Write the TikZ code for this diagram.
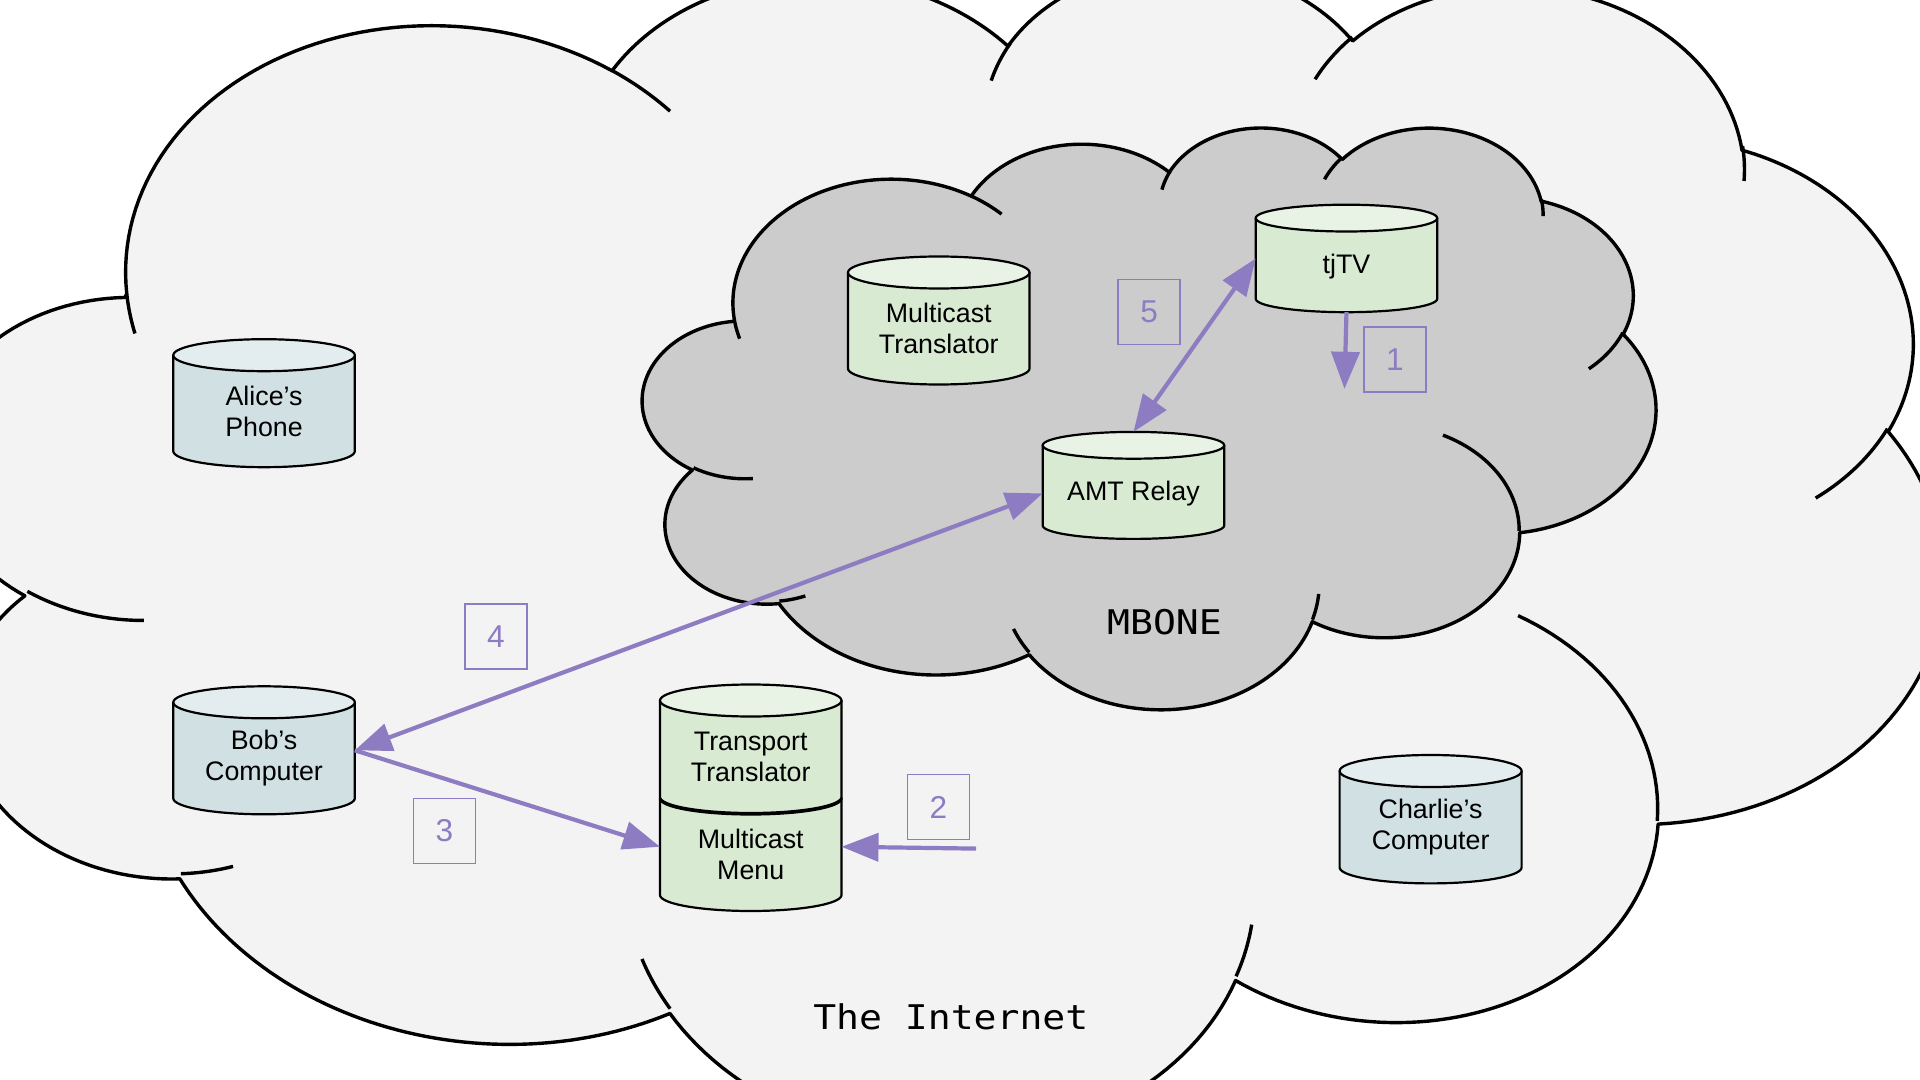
\documentclass[tikz,border=0pt]{standalone}
\usepackage{fontspec}
\setmainfont{Liberation Sans}
\newfontfamily\monofont{DejaVu Sans Mono}
\usetikzlibrary{arrows.meta,calc}
\definecolor{inetfill}{HTML}{F3F3F3}
\definecolor{mbonefill}{HTML}{CCCCCC}
\definecolor{arrowpurple}{HTML}{8E7CC3}
\definecolor{bluebody}{HTML}{D0E0E3}
\definecolor{bluetop}{HTML}{E3ECEE}
\definecolor{greenbody}{HTML}{D9EAD3}
\definecolor{greentop}{HTML}{E8F2E5}

\makeatletter
\newcommand\clstart[2]{\xdef\clx{#1}\xdef\cly{#2}\xdef\clspec{(#1,#2)}}
\newcommand\clcalc[4]{%
  \pgfmathsetmacro\cl@s{#3}%
  \pgfmathsetmacro\cl@e{#3+#4}%
  \pgfmathsetmacro\cl@ts{\cl@s+Mod(atan2(#1*sin(\cl@s),#2*cos(\cl@s))-(\cl@s)+180,360)-180}%
  \pgfmathsetmacro\cl@te{\cl@e+Mod(atan2(#1*sin(\cl@e),#2*cos(\cl@e))-(\cl@e)+180,360)-180}%
  \pgfmathsetmacro\cl@cx{\clx-#1*cos(\cl@ts)}%
  \pgfmathsetmacro\cl@cy{\cly-#2*sin(\cl@ts)}%
  \pgfmathsetmacro\cl@nx{\cl@cx+#1*cos(\cl@te)}%
  \pgfmathsetmacro\cl@ny{\cl@cy+#2*sin(\cl@te)}%
  \xdef\clx{\cl@nx}\xdef\cly{\cl@ny}}
\newcommand\clarc[4]{\clcalc{#1}{#2}{#3}{#4}%
  \xdef\clspec{\unexpanded\expandafter{\clspec} -- plot[domain=\cl@ts:\cl@te,samples=60,variable=\noexpand\clt] ({\cl@cx+#1*cos(\noexpand\clt)},{\cl@cy+#2*sin(\noexpand\clt)})}}
\newcommand\clinner[6]{\xdef\clx{#1}\xdef\cly{#2}\clcalc{#3}{#4}{#5}{#6}%
  \xdef\clinspec{\unexpanded\expandafter{\clinspec} (#1,#2) plot[domain=\cl@ts:\cl@te,samples=30,variable=\noexpand\clt] ({\cl@cx+#3*cos(\noexpand\clt)},{\cl@cy+#4*sin(\noexpand\clt)})}}
\newcommand\clbuild{%
  \clstart{39.00}{143.70}%
  \clarc{67.53}{91.90}{-190.48748}{123.78053}%
  \clarc{53.33}{72.67}{-144.10238}{89.94523}%
  \clarc{43.65}{59.45}{-145.80792}{99.72302}%
  \clarc{48.57}{65.95}{-130.98607}{117.24173}%
  \clarc{53.33}{72.73}{-78.70888}{109.02692}%
  \clarc{67.75}{92.20}{-46.26725}{130.26900}%
  \clarc{57.85}{78.67}{0.62502}{114.03333}%
  \clarc{67.52}{92.15}{22.45160}{115.17255}%
  \clarc{77.20}{105.43}{66.24263}{75.71102}%
  \clarc{43.60}{59.18}{-274.94208}{146.73557}%
  \clarc{43.45}{59.45}{-246.82850}{152.51885}%
  \gdef\clinspec{}%
  \clinner{46.93}{261.77}{43.45}{59.45}{86.74200}{26.42950}%
  \clinner{69.28}{348.99}{43.60}{59.18}{73.61047}{11.44747}%
  \clinner{164.78}{390.90}{67.52}{92.15}{137.62415}{14.08110}%
  \clinner{288.27}{347.51}{67.52}{92.15}{6.45327}{15.99835}%
  \clinner{341.29}{229.54}{57.85}{78.67}{-70.29235}{70.91737}%
  \clinner{417.98}{153.54}{53.33}{72.73}{30.31803}{27.75150}%
  \clinner{383.24}{54.26}{48.57}{65.95}{-13.74433}{14.85890}%
  \clinner{290.78}{39.52}{48.57}{65.95}{-149.18145}{18.19537}%
  \clinner{221.41}{47.20}{43.65}{59.45}{-163.49427}{17.68635}%
  \clinner{140.00}{51.92}{67.53}{91.90}{-66.70695}{12.31935}%
  \clinner{41.27}{157.89}{67.53}{91.90}{157.65435}{11.85817}%
}
\newcommand\drawcloud[1]{%
  \edef\cltmp{\noexpand\path[cloudline,fill=#1] \unexpanded\expandafter{\clspec} -- cycle;}\cltmp
  \edef\cltmp{\noexpand\path[cloudline] \unexpanded\expandafter{\clinspec};}\cltmp}
\makeatother

% #1 name, #2 left, #3 top, #4 width, #5 height, #6 ry, #7 body, #8 top, #9 text
\newcommand\can[9]{%
  \node[canbox, minimum width={#4*0.5pt}, minimum height={#5*0.5pt}] (#1) at ({#2+#4/2},{#3+#5/2}) {};
  \path[canline, fill=#7] (#2,{#3+#6}) -- (#2,{#3+#5-#6})
    -- plot[domain=180:0,samples=40,variable=\clt] ({#2+#4/2+#4/2*cos(\clt)},{#3+#5-#6+#6*sin(\clt)})
    -- ({#2+#4},{#3+#6}) -- cycle;
  \path[canline, fill=#8] ({#2+#4/2},{#3+#6}) ellipse[x radius={#4/2}, y radius={#6}];
  \node[cantext] (#1-text) at ({#2+#4/2},{#3+#5/2+8}) {#9};
}

\tikzset{
  cloudline/.style={draw=black, line width=1.7pt, line join=round},
  canbox/.style={draw=none, inner sep=0pt, outer sep=0pt, rectangle},
  canline/.style={draw=black, line width=1.1pt, line join=round},
  cantext/.style={align=center, inner sep=0pt, font=\fontsize{13.4}{15.5}\selectfont},
  arrowline/.style={draw=arrowpurple, line width=2.1pt},
  head/.style={},
  numbox/.style={draw=arrowpurple, line width=0.8pt, text=arrowpurple, minimum width=31pt, minimum height=32.5pt, inner sep=0pt, font=\fontsize{15.8}{18}\selectfont},
  bigmono/.style={font=\monofont\fontsize{17}{20}\selectfont, xscale=1.12, inner sep=0pt}
}

\begin{document}
\begin{tikzpicture}[x=0.5pt,y=-0.5pt]
\clbuild
\useasboundingbox (0,0) rectangle (1920,1080);
\clip (0,0) rectangle (1920,1080);
\fill[white] (0,0) rectangle (1920,1080);

% The Internet cloud (rotated)
\begin{scope}[shift={(937.7,542.8)}, rotate=-3.5, x=2.32951pt, y=-1.37616pt, shift={(-216,-216)}]
  \drawcloud{inetfill}
\end{scope}

% MBONE cloud
\begin{scope}[shift={(642.9,126.1)}, x=1.17211pt, y=-0.67315pt]
  \drawcloud{mbonefill}
\end{scope}

% cans
\can{alice}{173.3}{339.2}{181.5}{128}{16}{bluebody}{bluetop}{Alice’s\\Phone}
\can{bob}{173.3}{686.3}{181.5}{128}{16}{bluebody}{bluetop}{Bob’s\\Computer}
\can{menu}{660.0}{782.5}{181.5}{128.5}{16}{greenbody}{greentop}{Multicast\\Menu}
\can{transport}{660.0}{684.5}{181.5}{128.5}{16}{greenbody}{greentop}{Transport\\Translator}
\can{mtrans}{848.0}{256.5}{181.5}{128}{16}{greenbody}{greentop}{Multicast\\Translator}
\can{tjtv}{1255.7}{204.7}{181.5}{107.5}{13.4}{greenbody}{greentop}{tjTV}
\can{amt}{1042.7}{431.9}{181.5}{107}{13.4}{greenbody}{greentop}{AMT Relay}
\can{charlie}{1339.6}{755.0}{182}{128.4}{16}{bluebody}{bluetop}{Charlie’s\\Computer}

% cloud titles
\node[bigmono] (mbone) at (1164.5,622.6) {MBONE};
\node[bigmono] (internet) at (950.8,1016.6) {The Internet};

% connectors
\coordinate (a1end) at (1344.5,388.8);
\coordinate (a2start) at (976,848.6);
\draw[arrowline, -{Triangle[length=18.5pt,width=14pt]}] (tjtv.south) -- (a1end);
\draw[arrowline, -{Triangle[length=18.5pt,width=14pt]}] (a2start) -- (menu.east);
\draw[arrowline, -{Triangle[length=18.5pt,width=14pt]}] (bob.east) -- (menu.west);
\draw[arrowline, {Triangle[length=18.5pt,width=14pt]}-{Triangle[length=18.5pt,width=14pt]}] ($(amt.west)+(0,8)$) -- (bob.east);
\draw[arrowline, {Triangle[length=18.5pt,width=14pt]}-{Triangle[length=18.5pt,width=14pt]}] (amt.north) -- (tjtv.west);

% step labels
\node[numbox] (l1) at (1395.0,359.6) {1};
\node[numbox] (l2) at (938.3,807.0) {2};
\node[numbox] (l3) at (444.5,831.1) {3};
\node[numbox] (l4) at (495.9,636.4) {4};
\node[numbox] (l5) at (1149.2,312.1) {5};
\end{tikzpicture}
\end{document}
